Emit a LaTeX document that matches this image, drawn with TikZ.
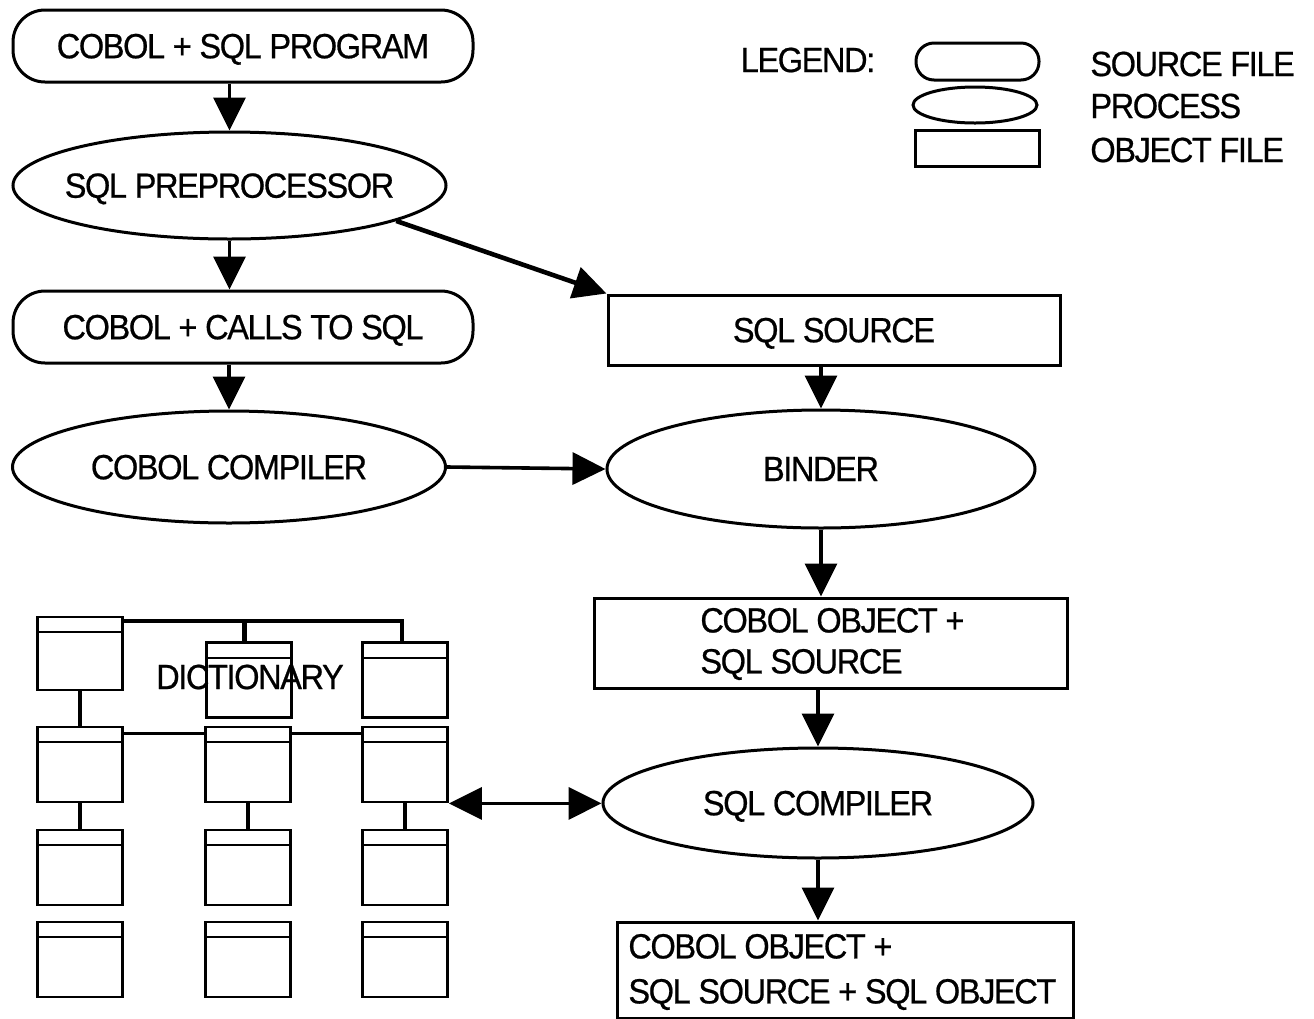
\documentclass[tikz,border=0pt]{standalone}
\usepackage{fontspec}
\setmainfont{Liberation Sans}[FakeStretch=0.93,LetterSpace=-4,FakeBold=0.6]
\usetikzlibrary{arrows.meta,shapes.geometric}

\begin{document}
\begin{tikzpicture}[x=0.5pt,y=-0.5pt,
  font=\fontsize{17.5}{20.5}\selectfont,
  srcfile/.style={draw,line width=1.5pt,rounded corners=16pt,minimum width=230pt,minimum height=36pt,text depth=0pt},
  proc/.style={draw,ellipse,line width=1.5pt,inner xsep=-12pt,inner ysep=0pt,text depth=0pt},
  objfile/.style={draw,line width=1.5pt,text depth=0pt},
  flow/.style={line width=1.8pt,-{Triangle[width=16pt,length=16.5pt]}},
  tbl/.style={draw,line width=1.4pt,minimum width=42.5pt,minimum height=37.5pt,inner sep=0pt,
    path picture={\draw[line width=1pt] ([yshift=-7.5pt]path picture bounding box.north west)
      -- ([yshift=-7.5pt]path picture bounding box.north east);}},
  link/.style={line width=1.5pt},
  txt/.style={inner sep=0pt}]
\useasboundingbox (0,0) rectangle (1314,1019);

% main flow, left column
\node[srcfile] (prog) at (243,46) {COBOL + SQL PROGRAM};
\node[proc,minimum width=216.5pt,minimum height=53.5pt] (pre) at (229.5,185.5) {SQL PREPROCESSOR};
\node[srcfile] (calls) at (243,327) {COBOL + CALLS TO SQL};
\node[proc,minimum width=216.5pt,minimum height=56pt] (cobc) at (229,467) {COBOL COMPILER};

% right column
\node[objfile,minimum width=226pt,minimum height=35pt] (sqlsrc) at (834,330) {SQL SOURCE};
\node[proc,minimum width=214pt,minimum height=59pt] (bind) at (821,469) {BINDER};
\node[objfile,minimum width=236.5pt,minimum height=45pt] (cobj) at (831,643) {};
\node[txt,anchor=west,align=left] (cobjtxt) at (700,644) {COBOL OBJECT +\\SQL SOURCE};
\node[proc,minimum width=215pt,minimum height=55pt] (comp) at (818,803) {SQL COMPILER};
\node[objfile,minimum width=228pt,minimum height=48pt] (fin) at (845,970) {};
\node[txt,anchor=west,align=left] (fintxt) at (628,972) {COBOL OBJECT +\\[2pt]SQL SOURCE + SQL OBJECT};

\foreach \from/\to in {pre.north |- prog.south/pre.north, pre.south/pre.south |- calls.north,
  cobc.north |- calls.south/cobc.north, cobc.east/bind.west,
  bind.north |- sqlsrc.south/bind.north, bind.south/bind.south |- cobj.north,
  comp.north |- cobj.south/comp.north, comp.south/comp.south |- fin.north}
\draw[flow] (\from) -- (\to);
\draw[flow,line width=2.3pt] (pre.-12) -- (sqlsrc.north west);

% legend
\node[txt] (leg) at (808,60) {LEGEND:};
\node[srcfile,minimum width=61.5pt,minimum height=18.5pt,rounded corners=9pt] (lsrc) at (977.5,61.5) {};
\node[proc,minimum width=62pt,minimum height=18pt] (lproc) at (975,105) {};
\node[objfile,minimum width=62pt,minimum height=18pt,inner sep=0pt] (lobj) at (977,148) {};
\node[txt,anchor=west] (lsrctxt) at (1090,64) {SOURCE FILE};
\node[txt,anchor=west] (lproctxt) at (1090,106) {PROCESS};
\node[txt,anchor=west] (lobjtxt) at (1090,150) {OBJECT FILE};

% dictionary
\node[tbl,minimum height=36.5pt] (t11) at (80,653.5) {};
\node[tbl] (t12) at (249,680) {};
\node[tbl] (t13) at (405,680) {};
\foreach \r/\y in {2/764.5,3/867.5,4/959.5}{
  \node[tbl] (t\r1) at (80,\y) {};
  \node[tbl] (t\r2) at (248,\y) {};
  \node[tbl] (t\r3) at (405,\y) {};
}
\coordinate (bus) at ([yshift=-2.5pt]t11.north east);
\draw[link,line width=2pt] (bus) -| ([xshift=-1.5pt]t13.north);
\draw[link,line width=2.5pt] (t12.north -| 244,0) -- (bus -| 244,0);
\draw[link,line width=2pt] (t11.south) -- (t21.north);
\draw[link] ([yshift=-4pt]t21.north east) -- ([yshift=-4pt]t22.north west);
\draw[link] ([yshift=-4pt]t22.north east) -- ([yshift=-4pt]t23.north west);
\foreach \c in {1,2,3}
  \draw[link,line width=2pt] (t2\c.south) -- (t3\c.north);
\node[txt] (dict) at (250,677) {DICTIONARY};

\draw[flow,{Triangle[width=16pt,length=16.5pt]}-{Triangle[width=16pt,length=16.5pt]}] (t23.south east) -- (comp.west |- t23.south east);
\end{tikzpicture}
\end{document}
